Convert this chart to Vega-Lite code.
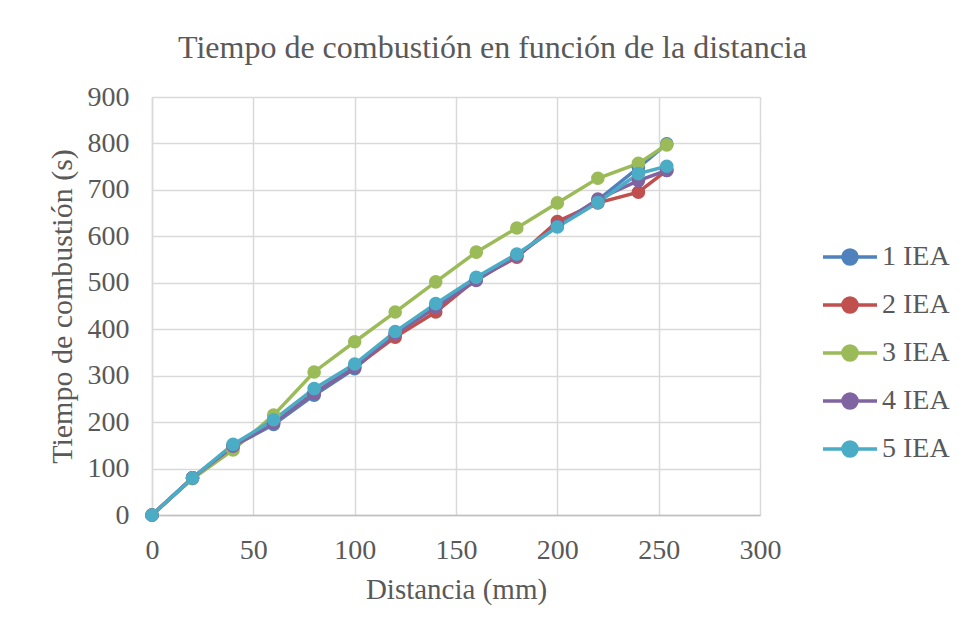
{
  "$schema": "https://vega.github.io/schema/vega-lite/v6.json",
  "autosize": "none",
  "width": 608,
  "height": 418,
  "padding": {"left": 152, "top": 97, "right": 210, "bottom": 119},
  "background": "white",
  "title": {
    "text": "Tiempo de combustión en función de la distancia",
    "font": "Liberation Serif",
    "fontSize": 32,
    "fontWeight": "normal",
    "color": "#595959",
    "anchor": "start",
    "frame": "group",
    "dx": 26,
    "offset": 18
  },
  "config": {
    "view": {"stroke": null},
    "font": "Liberation Serif",
    "axis": {"labelFont": "Liberation Serif", "titleFont": "Liberation Serif"},
    "legend": {"labelFont": "Liberation Serif"}
  },
  "data": {
    "values": [
      {"d": 0, "t": 0, "s": "1 IEA"}, {"d": 20, "t": 80, "s": "1 IEA"}, {"d": 40, "t": 148, "s": "1 IEA"}, {"d": 60, "t": 195, "s": "1 IEA"}, {"d": 80, "t": 258, "s": "1 IEA"}, {"d": 100, "t": 315, "s": "1 IEA"}, {"d": 120, "t": 390, "s": "1 IEA"}, {"d": 140, "t": 447, "s": "1 IEA"}, {"d": 160, "t": 508, "s": "1 IEA"}, {"d": 180, "t": 558, "s": "1 IEA"}, {"d": 200, "t": 625, "s": "1 IEA"}, {"d": 220, "t": 678, "s": "1 IEA"}, {"d": 240, "t": 748, "s": "1 IEA"}, {"d": 254, "t": 799, "s": "1 IEA"},
      {"d": 0, "t": 0, "s": "2 IEA"}, {"d": 20, "t": 80, "s": "2 IEA"}, {"d": 40, "t": 148, "s": "2 IEA"}, {"d": 60, "t": 200, "s": "2 IEA"}, {"d": 80, "t": 262, "s": "2 IEA"}, {"d": 100, "t": 318, "s": "2 IEA"}, {"d": 120, "t": 383, "s": "2 IEA"}, {"d": 140, "t": 437, "s": "2 IEA"}, {"d": 160, "t": 508, "s": "2 IEA"}, {"d": 180, "t": 555, "s": "2 IEA"}, {"d": 200, "t": 632, "s": "2 IEA"}, {"d": 220, "t": 672, "s": "2 IEA"}, {"d": 240, "t": 695, "s": "2 IEA"}, {"d": 254, "t": 742, "s": "2 IEA"},
      {"d": 0, "t": 0, "s": "3 IEA"}, {"d": 20, "t": 78, "s": "3 IEA"}, {"d": 40, "t": 140, "s": "3 IEA"}, {"d": 60, "t": 215, "s": "3 IEA"}, {"d": 80, "t": 308, "s": "3 IEA"}, {"d": 100, "t": 373, "s": "3 IEA"}, {"d": 120, "t": 437, "s": "3 IEA"}, {"d": 140, "t": 502, "s": "3 IEA"}, {"d": 160, "t": 566, "s": "3 IEA"}, {"d": 180, "t": 618, "s": "3 IEA"}, {"d": 200, "t": 672, "s": "3 IEA"}, {"d": 220, "t": 725, "s": "3 IEA"}, {"d": 240, "t": 757, "s": "3 IEA"}, {"d": 254, "t": 797, "s": "3 IEA"},
      {"d": 0, "t": 0, "s": "4 IEA"}, {"d": 20, "t": 80, "s": "4 IEA"}, {"d": 40, "t": 148, "s": "4 IEA"}, {"d": 60, "t": 198, "s": "4 IEA"}, {"d": 80, "t": 262, "s": "4 IEA"}, {"d": 100, "t": 318, "s": "4 IEA"}, {"d": 120, "t": 390, "s": "4 IEA"}, {"d": 140, "t": 447, "s": "4 IEA"}, {"d": 160, "t": 505, "s": "4 IEA"}, {"d": 180, "t": 558, "s": "4 IEA"}, {"d": 200, "t": 622, "s": "4 IEA"}, {"d": 220, "t": 680, "s": "4 IEA"}, {"d": 240, "t": 720, "s": "4 IEA"}, {"d": 254, "t": 742, "s": "4 IEA"},
      {"d": 0, "t": 0, "s": "5 IEA"}, {"d": 20, "t": 80, "s": "5 IEA"}, {"d": 40, "t": 152, "s": "5 IEA"}, {"d": 60, "t": 205, "s": "5 IEA"}, {"d": 80, "t": 272, "s": "5 IEA"}, {"d": 100, "t": 325, "s": "5 IEA"}, {"d": 120, "t": 395, "s": "5 IEA"}, {"d": 140, "t": 455, "s": "5 IEA"}, {"d": 160, "t": 512, "s": "5 IEA"}, {"d": 180, "t": 562, "s": "5 IEA"}, {"d": 200, "t": 620, "s": "5 IEA"}, {"d": 220, "t": 673, "s": "5 IEA"}, {"d": 240, "t": 735, "s": "5 IEA"}, {"d": 254, "t": 751, "s": "5 IEA"}
    ]
  },
  "mark": {"type": "line", "strokeWidth": 3.5, "point": {"filled": true, "size": 185, "opacity": 1}},
  "encoding": {
    "x": {
      "field": "d", "type": "quantitative",
      "scale": {"domain": [0, 300], "nice": false, "zero": true},
      "axis": {
        "title": "Distancia (mm)", "values": [0, 50, 100, 150, 200, 250, 300],
        "grid": true, "gridColor": "#d9d9d9", "gridWidth": 1.5,
        "domainColor": "#bfbfbf", "domainWidth": 1.5, "ticks": false,
        "labelFlush": false, "labelOverlap": false,
        "labelFont": "Liberation Serif", "labelFontSize": 28, "labelColor": "#595959", "labelPadding": 21,
        "titleFont": "Liberation Serif", "titleFontSize": 29, "titleFontWeight": "normal", "titleColor": "#595959", "titlePadding": 11
      }
    },
    "y": {
      "field": "t", "type": "quantitative",
      "scale": {"domain": [0, 900], "nice": false},
      "axis": {
        "title": "Tiempo de combustión (s)", "values": [0, 100, 200, 300, 400, 500, 600, 700, 800, 900],
        "grid": true, "gridColor": "#d9d9d9", "gridWidth": 1.5,
        "domainColor": "#d9d9d9", "domainWidth": 1.5, "ticks": false,
        "labelFlush": false, "labelOverlap": false,
        "labelFont": "Liberation Serif", "labelFontSize": 28, "labelColor": "#595959", "labelPadding": 23,
        "titleFont": "Liberation Serif", "titleFontSize": 30, "titleFontWeight": "normal", "titleColor": "#595959", "titlePadding": 10
      }
    },
    "color": {
      "field": "s", "type": "nominal",
      "scale": {"domain": ["1 IEA", "2 IEA", "3 IEA", "4 IEA", "5 IEA"], "range": ["#4f81bd", "#c0504d", "#9bbb59", "#8064a2", "#4bacc6"]},
      "legend": {
        "title": null, "orient": "none", "legendX": 669, "legendY": 131,
        "symbolType": "M-1,0H1M-0.26,0A0.26,0.26,0,1,1,0.26,0A0.26,0.26,0,1,1,-0.26,0Z",
        "symbolSize": 2916, "symbolStrokeWidth": 3.5,
        "labelFont": "Liberation Serif", "labelFontSize": 28, "labelColor": "#595959", "labelOffset": 3,
        "rowPadding": 4
      }
    }
  }
}
